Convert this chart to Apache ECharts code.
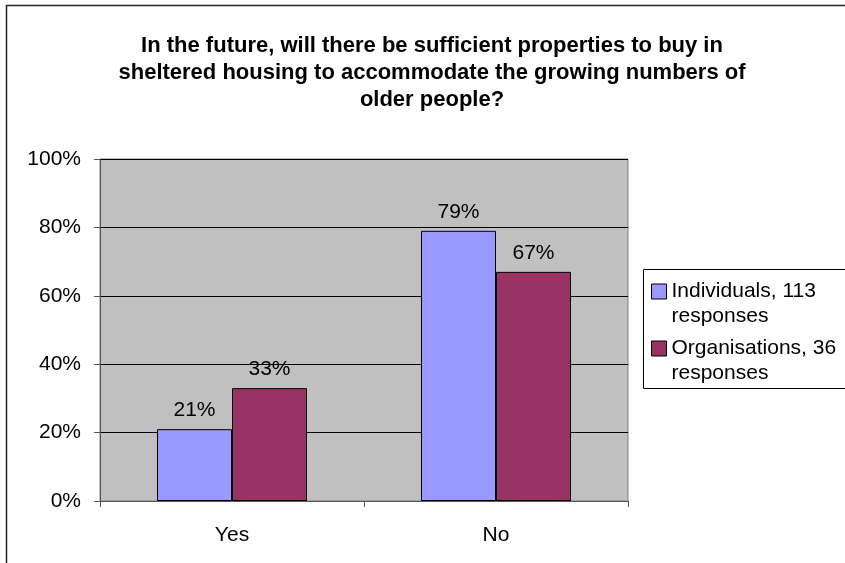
<!DOCTYPE html>
<html>
<head>
<meta charset="utf-8">
<script src="https://cdn.jsdelivr.net/npm/echarts@6/dist/echarts.min.js"></script>
<style>
  html, body { margin: 0; padding: 0; background: #fff; }
  #chart { width: 845px; height: 563px; }
</style>
</head>
<body>
<div id="chart"></div>
<script>
// Survey answers, percent of respondents
const categories = ['Yes', 'No'];
const individuals = [21, 79];
const organisations = [33, 67];
const seriesNames = ['Individuals, 113 responses', 'Organisations, 36 responses'];
const yTicks = [0, 20, 40, 60, 80, 100];

const FONT = 'Liberation Sans, Arial, sans-serif';

const chart = echarts.init(document.getElementById('chart'), null, { renderer: 'canvas' });

function barSeries(name, data, color) {
  return {
    name: name,
    type: 'bar',
    data: data,
    barWidth: 75,
    barGap: '0%',
    itemStyle: { color: color, borderColor: '#000', borderWidth: 1 },
    label: {
      show: true,
      position: 'top',
      distance: 8,
      formatter: '{c}%',
      color: '#000',
      fontFamily: FONT,
      fontSize: 21
    }
  };
}

chart.setOption({
  animation: false,
  backgroundColor: '#fff',
  title: {
    text: 'In the future, will there be sufficient properties to buy in\nsheltered housing to accommodate the growing numbers of\nolder people?',
    left: 427,
    textAlign: 'center',
    top: 27,
    textStyle: {
      fontFamily: FONT,
      fontWeight: 'bold',
      fontSize: 22,
      lineHeight: 27,
      color: '#000'
    }
  },
  legend: {
    orient: 'vertical',
    left: 651,
    top: 254,
    padding: 0,
    itemWidth: 15,
    itemHeight: 15,
    itemGap: -18,
    icon: 'rect',
    data: seriesNames,
    formatter: function (name) {
      // legend entry: name on one line, "responses" below, icon beside the first line
      const i = name.indexOf(', ');
      const j = name.indexOf(' ', i + 2);
      return '\n' + name.slice(0, j) + '\n' + name.slice(j + 1);
    },
    itemStyle: { borderColor: '#000', borderWidth: 1 },
    textStyle: { fontFamily: FONT, fontSize: 21, lineHeight: 25, color: '#000' }
  },
  grid: {
    left: 100, right: 217, top: 159, bottom: 62,
    show: true,
    backgroundColor: '#C0C0C0',
    borderColor: '#808080',
    borderWidth: 1
  },
  xAxis: {
    type: 'category',
    data: categories,
    axisLine: { lineStyle: { color: '#555', width: 1 } },
    axisTick: { show: true, length: 6, lineStyle: { color: '#555' } },
    axisLabel: { color: '#000', fontFamily: FONT, fontSize: 21, margin: 24 }
  },
  yAxis: {
    type: 'value',
    min: yTicks[0],
    max: yTicks[yTicks.length - 1],
    interval: yTicks[1] - yTicks[0],
    axisLine: { show: true, lineStyle: { color: '#555', width: 1 } },
    axisTick: { show: true, length: 6, lineStyle: { color: '#555' } },
    axisLabel: { color: '#000', fontFamily: FONT, fontSize: 21, margin: 19, formatter: '{value}%' },
    splitLine: { show: true, lineStyle: { color: '#000', width: 1 } }
  },
  graphic: [
    {
      type: 'rect',
      shape: { x: 6.5, y: 5.5, width: 900, height: 700 },
      style: { fill: 'none', stroke: '#222', lineWidth: 1.5 },
      silent: true,
      z: 100
    },
    {
      type: 'rect',
      shape: { x: 643.5, y: 269.5, width: 220, height: 119 },
      style: { fill: 'none', stroke: '#000', lineWidth: 1 },
      silent: true,
      z: 100
    }
  ],
  series: [
    barSeries(seriesNames[0], individuals, '#9999FF'),
    barSeries(seriesNames[1], organisations, '#993366')
  ]
});
</script>
</body>
</html>
